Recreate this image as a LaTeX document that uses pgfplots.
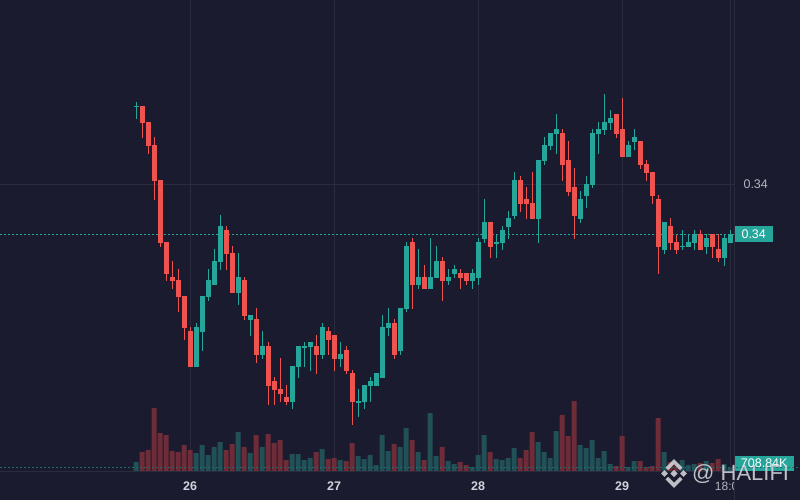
\documentclass[border=0pt]{standalone}
\usepackage{pgfplots}
\pgfplotsset{compat=1.18}
\usepackage{pgfplotstable}
\usepackage{fontspec}
\setmainfont{Liberation Sans}
\definecolor{bg}{RGB}{26,27,46}
\definecolor{gridc}{RGB}{42,44,62}
\definecolor{up}{RGB}{38,166,154}
\definecolor{down}{RGB}{239,83,80}
\definecolor{vup}{RGB}{33,80,87}
\definecolor{vdown}{RGB}{110,44,56}
\definecolor{lbl}{RGB}{209,212,220}
\definecolor{lbl2}{RGB}{178,181,190}
\definecolor{wm}{RGB}{208,209,215}

% hourly candles; prices given as screen heights (y grows downward), volume in K
\pgfplotstableread{
i o h l c v
0 107 102 119 106 1770
10 367 323 367 327 3363
11 332 296 351 296 4779
12 297 269 301 280 3009
13 285 249 285 261 4425
14 262 215 270 226 5310
17 293 253 305 277 7080
19 320 315 336 315 3363
21 355 331 359 346 4425
26 402 366 409 366 3186
27 367 346 378 346 3186
28 347 342 367 346 2124
29 347 342 371 342 2478
31 355 323 359 327 4071
34 359 342 367 354 2124
37 402 389 417 401 2832
38 402 385 409 385 2301
39 386 377 402 381 3009
40 386 373 386 373 1239
41 378 315 378 327 6549
42 328 308 336 323 3717
44 351 308 355 308 4425
45 309 242 312 246 7788
47 285 249 289 277 3540
49 289 238 289 277 10443
50 278 246 278 261 2832
52 281 269 285 277 1947
53 274 265 278 269 1416
56 281 269 289 273 885
57 278 238 285 242 3009
58 239 199 243 222 6549
60 243 234 258 242 2301
61 243 226 250 230 2124
62 227 211 239 218 2478
63 216 172 219 180 4248
67 219 160 243 160 5310
68 161 137 165 145 3540
69 146 133 150 133 2478
70 134 114 154 129 7257
74 219 191 223 199 4779
75 196 176 208 184 4248
76 185 129 188 133 5664
77 134 122 154 129 2478
78 130 94 135 122 3717
79 123 110 130 118 1416
82 157 141 157 145 885
83 142 129 150 137 1947
88 250 222 254 222 3540
91 246.5 230 250 246 2124
92 247 234 247 242 1239
93 243 230 250 234 1416
95 247 234 254 238 1947
98 258 234 266 238 1416
99 243 230 243 234 708.84
}\greentab

\pgfplotstableread{
i o h l c v
1 106 106 138 123 3540
2 122 122 154 146 3894
3 145 137 200 181 11328
4 180 180 247 243 6903
5 242 242 281 274 6549
6 277 261 289 281 3717
7 280 269 312 297 3540
8 296 296 340 328 4779
9 331 327 367 367 3894
15 230 226 270 254 3894
16 253 246 293 293 4956
18 280 277 320 316 4425
20 319 308 363 355 6549
22 346 342 405 386 6726
23 381 377 405 390 5133
24 389 358 402 394 5664
25 397 385 405 402 2124
30 346 335 374 355 3540
32 331 327 355 340 2301
33 335 335 371 359 2478
35 350 346 374 371 1947
36 373 370 425 402 5133
43 323 319 359 355 4956
46 242 238 309 285 5664
48 277 265 289 289 2124
51 261 257 301 281 4425
54 273 269 289 278 1770
55 273 273 285 281 1239
59 222 222 258 247 3540
64 180 176 212 204 2478
65 199 187 219 204 3894
66 203 172 219 219 7080
71 133 129 181 165 10089
72 160 141 196 192 6372
73 187 168 239 216 12567
80 114 114 138 134 1062
81 129 98 157 157 6372
84 141 141 169 165 1947
85 164 160 181 173 885
86 172 172 204 196 1062
87 199 195 274 247 9558
89 226 218 250 243 1770
90 242 235 254 250 1239
94 234 230 250 250 1593
96 234 234 258 247 1593
97 249 234 262 258 2301
}\redtab

\begin{document}
\begin{tikzpicture}[x=1pt,y=1pt]
\fill[bg] (0,-28) rectangle (800,472);
% volume pane + time axis
\begin{axis}[scale only axis,
  width=734pt, height=472pt,
  xmin=-22.6667, xmax=99.6667, ymin=0, ymax=83643,
  axis line style={draw=none}, major tick length=0pt,
  ytick=\empty,
  xtick={9,33,57,81,99}, xticklabels={26,27,28,29,{}},
  xmajorgrids, grid style={gridc, line width=1pt},
  xticklabel style={anchor=center, yshift=-14pt, font=\fontsize{12.5}{14}\selectfont\bfseries, text=lbl},
  ybar, bar width=5pt, bar shift=0pt, clip=false]
\addplot[fill=vup, draw=none] table[x=i, y=v] {\greentab};
\addplot[fill=vdown, draw=none] table[x=i, y=v] {\redtab};
\node[fill=up, text=white, anchor=west, minimum width=60pt, minimum height=15pt, inner sep=0pt, yshift=4.5pt, font=\fontsize{12.5}{14}\selectfont] at (axis cs:99.6667,708.84) {708.84K};
\draw[up!55!bg, dash pattern=on 2pt off 2pt, line width=1pt] (axis cs:-22.6667,708.84) -- (axis cs:99.6667,708.84) -- ++(60pt,0);
\end{axis}
% price pane
\begin{axis}[scale only axis,
  width=734pt, height=472pt,
  xmin=-22.6667, xmax=99.6667, ymin=0, ymax=472, y dir=reverse,
  axis line style={draw=none}, major tick length=0pt,
  xtick=\empty, ytick={184}, yticklabels={0.34},
  ymajorgrids, grid style={gridc, line width=1pt},
  yticklabel pos=right,
  yticklabel style={anchor=west, xshift=6pt, font=\fontsize{12.5}{14}\selectfont, text=lbl2},
  clip=false]
\draw[up, dash pattern=on 2pt off 2pt, line width=1pt] (axis cs:-22.6667,234) -- (axis cs:99.6667,234);
% wicks
\addplot[draw=none, mark=none, forget plot, error bars/.cd, y dir=both, y explicit, error mark=none,
  error bar style={draw=up, line width=1pt}]
  table[x=i, y expr={(\thisrow{h}+\thisrow{l})/2}, y error expr={(\thisrow{l}-\thisrow{h})/2}] {\greentab};
\addplot[draw=none, mark=none, forget plot, error bars/.cd, y dir=both, y explicit, error mark=none,
  error bar style={draw=down, line width=1pt}]
  table[x=i, y expr={(\thisrow{h}+\thisrow{l})/2}, y error expr={(\thisrow{l}-\thisrow{h})/2}] {\redtab};
% bodies
\addplot[draw=none, mark=none, forget plot, error bars/.cd, y dir=both, y explicit, error mark=none,
  error bar style={draw=up, line width=5pt}]
  table[x=i, y expr={(\thisrow{o}+\thisrow{c})/2}, y error expr={max(abs(\thisrow{o}-\thisrow{c})/2,0.6)}] {\greentab};
\addplot[draw=none, mark=none, forget plot, error bars/.cd, y dir=both, y explicit, error mark=none,
  error bar style={draw=down, line width=5pt}]
  table[x=i, y expr={(\thisrow{o}+\thisrow{c})/2}, y error expr={max(abs(\thisrow{o}-\thisrow{c})/2,0.6)}] {\redtab};
\node[fill=up, text=white, anchor=west, minimum width=39pt, minimum height=16pt, inner sep=0pt, font=\fontsize{12.5}{14}\selectfont] at (axis cs:99.6667,234) {0.34};
\end{axis}
% frame lines
\draw[gridc, line width=1pt] (0,0) -- (734,0);
\draw[gridc, line width=1pt] (734,-28) -- (734,472);
% partially hidden time label
\begin{scope}
\clip (700,-28) rectangle (733.5,0);
\node[text=lbl2, font=\fontsize{12}{14}\selectfont] at (730,-14) {18:00};
\end{scope}
% watermark
\begin{scope}[shift={(674,-1.5)}, opacity=0.9]
\fill[wm] (0,3.6) -- (3.6,0) -- (0,-3.6) -- (-3.6,0) -- cycle;
\fill[wm] (-9.5,3.3) -- (-6.2,0) -- (-9.5,-3.3) -- (-12.8,0) -- cycle;
\fill[wm] (9.5,3.3) -- (12.8,0) -- (9.5,-3.3) -- (6.2,0) -- cycle;
\draw[wm, line width=3.6pt, miter limit=4] (-7.2,4.6) -- (0,11.8) -- (7.2,4.6);
\draw[wm, line width=3.6pt, miter limit=4] (-7.2,-4.6) -- (0,-11.8) -- (7.2,-4.6);
\end{scope}
\node[anchor=west, text=wm, opacity=0.9, inner sep=0pt, font=\fontsize{22}{24}\selectfont] at (692,-2) {@ HALIFI};
\pgfresetboundingbox
\path[use as bounding box] (0,-28) rectangle (800,472);
\end{tikzpicture}
\end{document}
